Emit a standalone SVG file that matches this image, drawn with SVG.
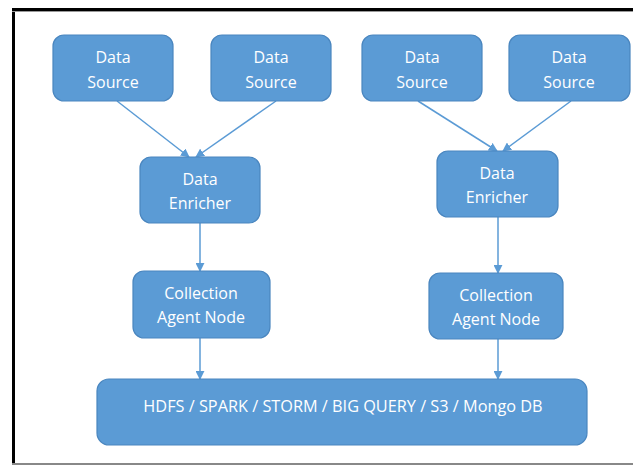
<svg xmlns="http://www.w3.org/2000/svg" width="633" height="467" viewBox="0 0 633 467">
<defs>
<style>
.n rect{fill:#5b9bd5;stroke:#4a86bf;stroke-width:1.2}
.n text{fill:#fff;font-family:"Open Sans","Liberation Sans",sans-serif;font-size:16px;text-anchor:middle}
.c line{stroke:#5b9bd5;stroke-width:1.5;marker-end:url(#ah)}
</style>
<marker id="ah" viewBox="0 0 10 10" refX="9" refY="5" markerWidth="9" markerHeight="9" markerUnits="userSpaceOnUse" orient="auto">
<path d="M0,0 L10,5 L0,10 z" fill="#5b9bd5"/>
</marker>
</defs>
<rect x="0" y="0" width="633" height="467" fill="#fff"/>
<line x1="13.5" y1="10" x2="13.5" y2="465" stroke="#000" stroke-width="3"/>
<line x1="12" y1="9.5" x2="633" y2="9.5" stroke="#000" stroke-width="3"/>
<line x1="12" y1="11.5" x2="633" y2="11.5" stroke="#999" stroke-width="1"/>
<line x1="12" y1="464" x2="633" y2="464" stroke="#888" stroke-width="2"/>
<g class="c">
<line x1="117" y1="101" x2="189" y2="157"/>
<line x1="276" y1="101" x2="196" y2="157"/>
<line x1="418" y1="101" x2="497" y2="151"/>
<line x1="571" y1="101" x2="503" y2="151"/>
<line x1="200" y1="223" x2="200" y2="271"/>
<line x1="498" y1="217" x2="498" y2="273"/>
<line x1="200" y1="338" x2="200" y2="379"/>
<line x1="498" y1="339" x2="498" y2="379"/>
</g>
<g id="ds1" class="n"><rect x="53" y="35" width="120" height="66" rx="11"/><text x="113" y="63">Data</text><text x="113" y="88">Source</text></g>
<g id="ds2" class="n"><rect x="211" y="35" width="120" height="66" rx="11"/><text x="271" y="63">Data</text><text x="271" y="88">Source</text></g>
<g id="ds3" class="n"><rect x="362" y="35" width="120" height="66" rx="11"/><text x="422" y="63">Data</text><text x="422" y="88">Source</text></g>
<g id="ds4" class="n"><rect x="509" y="35" width="121" height="66" rx="11"/><text x="569" y="63">Data</text><text x="569" y="88">Source</text></g>
<g id="de1" class="n"><rect x="140" y="157" width="120" height="66" rx="11"/><text x="200" y="185">Data</text><text x="200" y="209">Enricher</text></g>
<g id="de2" class="n"><rect x="437" y="151" width="121" height="66" rx="11"/><text x="497" y="179">Data</text><text x="497" y="203">Enricher</text></g>
<g id="ca1" class="n"><rect x="133" y="271" width="137" height="67" rx="11"/><text x="201" y="299">Collection</text><text x="201" y="323">Agent Node</text></g>
<g id="ca2" class="n"><rect x="429" y="273" width="134" height="66" rx="11"/><text x="496" y="301">Collection</text><text x="496" y="325">Agent Node</text></g>
<g id="store" class="n"><rect x="97" y="379" width="490" height="66" rx="12"/><text x="343" y="412" style="font-size:16.3px">HDFS / SPARK / STORM / BIG QUERY / S3 / Mongo DB</text></g>
</svg>
